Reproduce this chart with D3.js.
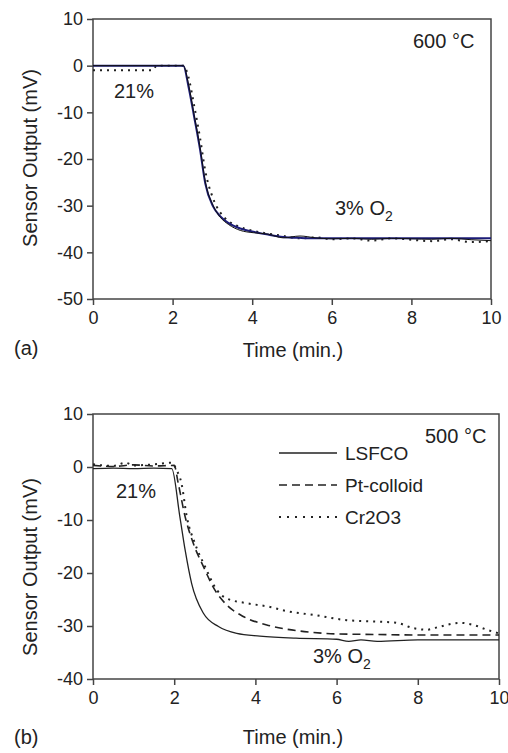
<!DOCTYPE html>
<html>
<head>
<meta charset="utf-8">
<script src="https://cdn.jsdelivr.net/npm/d3@7"></script>
<style>
  body { margin: 0; background: #fff; }
  text { font-family: "Liberation Sans", Arial, sans-serif; fill: #222; }
</style>
</head>
<body>
<div id="chart-area"></div>
<script>
// panel (a), 600 C
var timesA = [0, 0.5, 1, 1.5, 1.6, 2, 2.27, 2.4, 2.54, 2.69, 2.82, 3.02, 3.2, 3.4, 3.7, 4.03, 4.4, 4.78, 5.2, 5.6, 6, 6.5, 7, 7.5, 8, 8.5, 9, 9.5, 10];
var blueA  = [0, 0, 0, 0, 0, 0, 0, -4.5, -10.9, -18, -25.2, -30.2, -32.3, -33.7, -34.9, -35.6, -36.2, -36.7, -36.9, -37, -37, -37, -37, -37, -37, -37, -37, -37, -37];
var blackA = [0, 0, 0, 0, 0, 0, 0, -4, -10.5, -17.5, -24.8, -30, -32.5, -34, -35.3, -35.8, -36.1, -36.9, -36.5, -36.9, -37.1, -37, -37.2, -37, -37.1, -37.2, -37, -37.3, -37.5];
var dotA   = [-1, -1, -1, -1, 0, 0, 0, -2.5, -8.5, -15.5, -22.5, -28.5, -31.5, -33.3, -34.6, -35.4, -36, -36.5, -37, -36.8, -37.2, -37, -37.5, -37, -37.3, -37.6, -37.2, -37.8, -37.6];

// panel (b), 500 C
var lsfcoT = [0, 0.5, 1, 1.5, 1.94, 2.14, 2.27, 2.43, 2.72, 3.09, 3.54, 4.11, 5, 6, 6.3, 6.6, 7, 8, 9, 10];
var lsfcoV = [-0.3, -0.2, -0.3, -0.2, -0.3, -9.4, -15.7, -22, -27.6, -30.1, -31.4, -31.9, -32.3, -32.5, -32.9, -32.6, -32.9, -32.6, -32.6, -32.6];
var ptT = [0, 0.5, 1, 1.5, 2.0, 2.1, 2.27, 2.47, 2.72, 3.0, 3.29, 3.7, 4.28, 4.77, 5.4, 6, 7, 8, 9, 10];
var ptV = [0.3, 0.1, 0.4, 0.2, 0.3, -3.1, -9.4, -14.4, -18.8, -23.2, -26, -28.2, -29.8, -30.6, -31.2, -31.5, -31.6, -31.7, -31.7, -31.7];
var crT = [0, 0.5, 0.8, 1, 1.5, 1.94, 2.06, 2.18, 2.31, 2.51, 2.76, 3.05, 3.29, 3.79, 4.36, 4.77, 5.43, 6.25, 7.07, 7.48, 7.89, 8.22, 8.55, 9.04, 9.37, 9.7, 10];
var crV = [0.5, 0.2, 0.8, 0.3, 0.5, 0.8, -0.6, -3.1, -9.4, -14.4, -18.8, -23.2, -24.8, -25.7, -26.4, -27.2, -27.9, -28.9, -29.2, -29.4, -30.4, -30.7, -30.1, -29.4, -29.8, -30.7, -31.4];

var xTicks = [0, 2, 4, 6, 8, 10];
var yTicksA = [10, 0, -10, -20, -30, -40, -50];
var yTicksB = [10, 0, -10, -20, -30, -40];
var legendNames = ["LSFCO", "Pt-colloid", "Cr2O3"];
var legendDash = ["none", "8,5", "2,6"];

var svg = d3.select("#chart-area")
    .append("svg")
        .attr("width", 508)
        .attr("height", 753);

function zip(t, v) {
    return t.map(function(d, i) { return [d, v[i]]; });
}

function panel(xr, yr, ydom, yTicks) {
    var x = d3.scaleLinear().domain([0, 10]).range(xr);
    var y = d3.scaleLinear().domain(ydom).range(yr);

    var xAxis = svg.append("g")
        .attr("transform", "translate(0," + yr[0] + ")")
        .call(d3.axisBottom(x).tickValues(xTicks).tickSize(6).tickSizeOuter(0).tickPadding(6)
            .tickFormat(function(d) { return String(d); }));
    var yAxis = svg.append("g")
        .attr("transform", "translate(" + xr[0] + ",0)")
        .call(d3.axisLeft(y).tickValues(yTicks).tickSize(6).tickSizeOuter(0).tickPadding(4)
            .tickFormat(function(d) { return String(d); }));

    [xAxis, yAxis].forEach(function(a) {
        a.select(".domain").remove();
        a.selectAll("line").attr("stroke", "#444").attr("stroke-width", 1.5);
        a.selectAll("text").attr("font-size", "18px").attr("fill", "#222")
            .style("font-family", "'Liberation Sans', Arial, sans-serif");
    });

    svg.append("rect")
        .attr("x", xr[0]).attr("y", yr[1])
        .attr("width", xr[1] - xr[0]).attr("height", yr[0] - yr[1])
        .attr("fill", "none").attr("stroke", "#444").attr("stroke-width", 1.5);

    return { x: x, y: y };
}

function curve(p, pts, color, width, dash) {
    var line = d3.line()
        .x(function(d) { return p.x(d[0]); })
        .y(function(d) { return p.y(d[1]); })
        .curve(d3.curveMonotoneX);
    svg.append("path")
        .datum(pts)
        .attr("d", line)
        .attr("fill", "none")
        .attr("stroke", color)
        .attr("stroke-width", width)
        .attr("stroke-dasharray", dash);
}

function label(x, y, txt, size, anchor) {
    return svg.append("text")
        .attr("x", x).attr("y", y)
        .attr("font-size", size)
        .attr("text-anchor", anchor || "start")
        .text(txt);
}

function o2label(x, y) {
    var t = label(x, y, "3% O", "20px");
    t.append("tspan").attr("font-size", "14px").attr("dy", 6).text("2");
}

// ---- panel (a)
var pa = panel([93, 491], [299, 19], [-50, 10], yTicksA);
curve(pa, zip(timesA, dotA), "#222", 2, "2,5");
curve(pa, zip(timesA, blueA), "#1c1c78", 2, null);
curve(pa, zip(timesA, blackA), "#111", 1, null);

label(413, 48, "600 °C", "20px");
label(114, 98, "21%", "20px");
o2label(335, 215);
label(293, 357, "Time (min.)", "20px", "middle");
label(14, 355, "(a)", "20px");
svg.append("text")
    .attr("transform", "translate(37,158) rotate(-90)")
    .attr("font-size", "20px")
    .attr("text-anchor", "middle")
    .text("Sensor Output (mV)");

// ---- panel (b)
var pb = panel([93, 499], [679, 414], [-40, 10], yTicksB);
curve(pb, zip(crT, crV), "#222", 2, "2,5");
curve(pb, zip(ptT, ptV), "#222", 1.6, "8,5");
curve(pb, zip(lsfcoT, lsfcoV), "#222", 1.3, null);

label(425, 443, "500 °C", "20px");
label(116, 498, "21%", "20px");
o2label(313, 663);
label(293, 744, "Time (min.)", "20px", "middle");
label(14, 744, "(b)", "20px");
svg.append("text")
    .attr("transform", "translate(37,567) rotate(-90)")
    .attr("font-size", "20px")
    .attr("text-anchor", "middle")
    .text("Sensor Output (mV)");

// legend
var legend = svg.append("g").attr("transform", "translate(279,453)");
legendNames.forEach(function(name, i) {
    var row = legend.append("g").attr("transform", "translate(0," + i * 32 + ")");
    row.append("line")
        .attr("x1", 0).attr("x2", 58)
        .attr("stroke", "#222")
        .attr("stroke-width", i === 2 ? 2 : 1.5)
        .attr("stroke-dasharray", legendDash[i] === "none" ? null : legendDash[i]);
    row.append("text")
        .attr("x", 66).attr("y", 7)
        .attr("font-size", "19px")
        .text(name);
});
</script>
</body>
</html>
